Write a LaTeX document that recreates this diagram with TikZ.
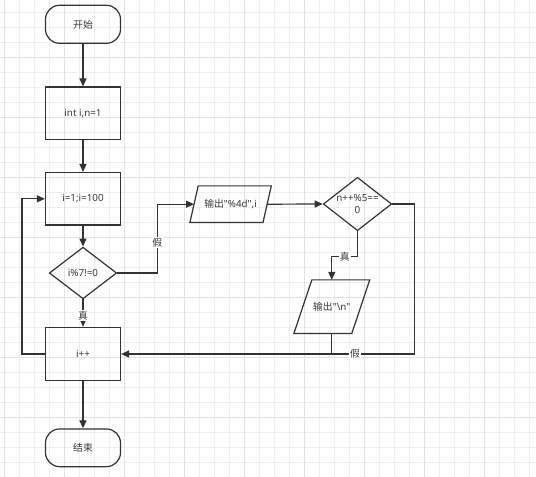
\documentclass[tikz,border=0pt]{standalone}
\usepackage{fontspec}
\setmainfont{Noto Sans}
\newfontfamily\cjk{Noto Sans CJK SC}
\usetikzlibrary{shapes.geometric,arrows.meta,calc}
\definecolor{ln}{HTML}{333333}
\definecolor{tx}{HTML}{3A3A3A}
\definecolor{gmin}{HTML}{EFEFEF}
\definecolor{gmaj}{HTML}{E3E3E3}
\tikzset{
  txt/.style={text=tx, font=\fontsize{9.8}{12}\selectfont},
  base/.style={txt, draw=ln, line width=1.2pt, inner sep=0pt},
  term/.style={base, rectangle, rounded corners=14pt, minimum width=75pt, minimum height=38pt},
  proc/.style={base, rectangle, minimum width=75pt, minimum height=52.5pt},
  dec/.style={base, diamond, aspect=1.3},
  iobox/.style={txt, rectangle, inner sep=0pt},
  arr/.style={draw=ln, line width=1.2pt, -{Triangle[length=8pt,width=7pt]}},
  con/.style={draw=ln, line width=1.2pt},
  lbl/.style={txt, fill=white, inner sep=1pt}
}
\newcommand\paraoutline[2]{%
  \draw[draw=ln, line width=1.2pt] ($(#1.north west)+(#2/2,0)$) -- ($(#1.north east)+(#2/2,0)$)
    -- ($(#1.south east)-(#2/2,0)$) -- ($(#1.south west)-(#2/2,0)$) -- cycle;}
\begin{document}
\begin{tikzpicture}[x=1pt,y=-1pt]
\useasboundingbox (0,0) rectangle (536,477);
\fill[white] (0,0) rectangle (536,477);
% grid
\foreach \k in {0,...,35} {\draw[gmin, line width=1pt] (4+15*\k,0) -- (4+15*\k,477);}
\foreach \k in {0,...,31} {\draw[gmin, line width=1pt] (0,12.7+15*\k) -- (536,12.7+15*\k);}
\foreach \k in {0,...,8} {\draw[gmaj, line width=1pt] (4+60*\k,0) -- (4+60*\k,477);}
\foreach \k in {0,...,6} {\draw[gmaj, line width=1pt] (0,57.7+60*\k) -- (536,57.7+60*\k);}
% nodes
\node[term] (start) at (83,24.3) {\cjk 开始};
\node[proc] (init) at (83,113.3) {int i,n=1};
\node[proc] (loop) at (83,198.8) {i=1;i=100};
\node[dec, minimum width=67.4pt, minimum height=51.7pt] (d1) at (83,273) {};
\node[txt] at (d1) {i\%7!=0};
\node[proc, minimum height=53.4pt] (inc) at (83,354) {i++};
\node[term, minimum height=37.7pt] (end) at (83,447.8) {\cjk 结束};
\node[iobox, minimum width=72.7pt, minimum height=36.3pt] (p1) at (230.6,204.2) {{\cjk 输出}\textquotedbl\%4d\textquotedbl,i};
\paraoutline{p1}{8.3}
\node[dec, minimum width=68.4pt, minimum height=53.4pt] (d2) at (357.5,204) {};
\node[txt, align=center, font=\fontsize{9.8}{11.5}\selectfont] at (d2) {n++\%5==\\0};
\node[iobox, minimum width=57.5pt, minimum height=53.3pt] (p2) at (331.8,306.7) {{\cjk 输出}\textquotedbl\textbackslash n\textquotedbl};
\paraoutline{p2}{18}
% connectors
\draw[arr] (start) -- (init);
\draw[arr] (init) -- (loop);
\draw[arr] (loop) -- (d1);
\draw[arr] (d1) -- node[lbl, pos=0.6] {\cjk 真} (inc);
\draw[arr] (inc) -- (end);
\draw[arr] (inc.west) -- ++(-23,0) |- (loop.west);
\draw[arr] (d1.east) -- ++(40,0) |- node[lbl, pos=0.22] {\cjk 假} (p1.west);
\draw[arr] (p1.east) -- (d2.west);
\draw[arr] (d2.south) -- ++(0,25.3) -| node[lbl, pos=0.25] {\cjk 真} (p2.north);
\coordinate (j) at (p2.center |- inc.east);
\draw[arr] (p2.south) -- (j) -- (inc.east);
\draw[con] (d2.east) -- ++(22,0) |- node[lbl, pos=0.86] {\cjk 假} (j);
\end{tikzpicture}
\end{document}
